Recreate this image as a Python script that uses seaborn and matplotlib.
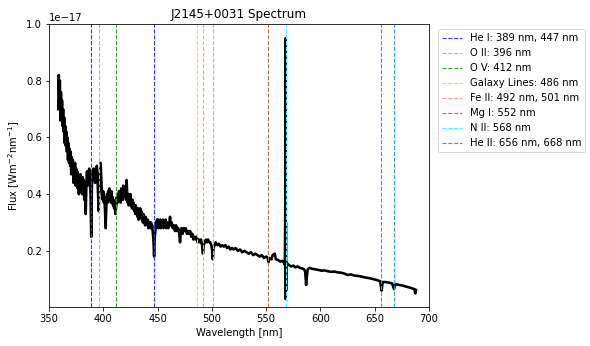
import numpy as np
import matplotlib
matplotlib.use("Agg")
from matplotlib import pyplot as plt
import seaborn as sns

# spectrum (flux in units of 1e-17 W m^-2 nm^-1)
wl_blue = [358.5, 359.0, 359.5, 360.0, 360.5, 361.0, 361.5, 362.0, 362.5, 363.0,
           363.5, 364.0, 364.5, 365.0, 365.5, 366.0, 366.5, 367.0, 367.5, 368.0,
           368.5, 369.0, 369.5, 370.0, 370.5, 371.0, 371.5, 372.0, 372.5, 373.0,
           373.5, 374.0, 374.5, 375.0, 375.5, 376.0, 376.5, 377.0, 377.5, 378.0,
           378.5, 379.0, 379.5, 380.0, 380.5, 381.0, 381.5, 382.0, 382.5, 383.0,
           383.8, 384.5, 385.0, 385.5, 386.0, 386.5, 387.0, 387.5, 388.3, 388.9,
           389.5, 390.0, 390.5, 391.0, 391.5, 392.0, 392.5, 393.0, 393.5, 394.0,
           394.5, 395.2, 395.8, 396.5, 397.0, 397.5, 398.0, 398.5, 399.0, 399.5,
           400.0, 400.5, 401.0, 401.5, 402.2, 402.8, 403.5, 404.0, 404.5, 405.0,
           405.5, 406.0, 406.5, 407.0, 407.5, 408.0, 408.5, 409.0, 409.5, 410.0,
           410.5, 411.2, 412.0, 412.5, 413.0, 413.5, 414.0, 414.5, 415.0, 415.5,
           416.0, 416.5, 417.0, 417.5, 418.0, 418.5, 419.0, 419.5, 420.0, 420.5,
           421.0, 421.5, 422.0, 422.5, 423.0, 423.5, 424.0, 424.5, 425.0, 425.5,
           426.0, 426.5, 427.0, 427.5, 428.0, 428.5, 429.0, 429.5, 430.0, 430.5,
           431.0, 431.5, 432.0, 432.5, 433.0, 433.5, 434.0, 434.5, 435.0, 435.5,
           436.0, 436.5, 437.0, 437.5, 438.0, 438.5, 439.0, 439.5, 440.0, 440.5,
           441.0, 441.5, 442.0, 442.5, 443.0, 443.5, 444.0, 444.5, 445.0, 445.5,
           446.2, 446.8, 447.4, 448.0, 448.5, 449.0, 449.5]
fl_blue = [0.70, 0.82, 0.74, 0.80, 0.66, 0.76, 0.68, 0.73, 0.64, 0.70,
           0.62, 0.67, 0.58, 0.64, 0.57, 0.62, 0.55, 0.60, 0.52, 0.58,
           0.51, 0.56, 0.50, 0.55, 0.47, 0.53, 0.48, 0.52, 0.44, 0.50,
           0.46, 0.51, 0.43, 0.49, 0.45, 0.48, 0.42, 0.47, 0.40, 0.46,
           0.43, 0.47, 0.41, 0.45, 0.40, 0.46, 0.42, 0.45, 0.38, 0.44,
           0.33, 0.44, 0.48, 0.43, 0.47, 0.44, 0.49, 0.45, 0.40, 0.25,
           0.42, 0.48, 0.45, 0.49, 0.46, 0.48, 0.44, 0.49, 0.46, 0.50,
           0.47, 0.40, 0.34, 0.45, 0.48, 0.51, 0.47, 0.42, 0.40, 0.38,
           0.41, 0.37, 0.39, 0.35, 0.28, 0.36, 0.40, 0.37, 0.41, 0.38,
           0.42, 0.39, 0.40, 0.37, 0.41, 0.38, 0.39, 0.36, 0.38, 0.35,
           0.37, 0.33, 0.36, 0.39, 0.37, 0.40, 0.38, 0.41, 0.38, 0.40,
           0.37, 0.42, 0.39, 0.41, 0.38, 0.43, 0.40, 0.42, 0.39, 0.42,
           0.38, 0.45, 0.40, 0.37, 0.40, 0.36, 0.39, 0.37, 0.40, 0.36,
           0.38, 0.35, 0.38, 0.35, 0.37, 0.34, 0.36, 0.33, 0.36, 0.33,
           0.35, 0.32, 0.35, 0.31, 0.34, 0.33, 0.35, 0.32, 0.34, 0.31,
           0.33, 0.30, 0.33, 0.31, 0.32, 0.29, 0.32, 0.30, 0.31, 0.29,
           0.31, 0.28, 0.30, 0.29, 0.30, 0.28, 0.30, 0.28, 0.29, 0.27,
           0.24, 0.18, 0.25, 0.27, 0.30, 0.28, 0.31]

wl_mid = [450.0, 450.5, 451.0, 451.5, 452.0, 452.5, 453.0, 453.5, 454.0, 455.0,
          455.5, 456.0, 457.0, 457.5, 458.0, 459.0, 460.0, 461.0, 461.5, 462.0,
          463.0, 464.0, 465.0, 466.0, 467.0, 468.0, 469.0, 470.0, 470.7, 471.4,
          472.0, 473.0, 474.0, 475.0, 476.0, 477.0, 478.0, 479.0, 480.0, 481.0,
          482.0, 483.0, 484.0, 485.0, 486.0, 487.0, 488.0, 489.0, 490.0, 491.0,
          491.8, 492.5, 493.5, 494.5, 495.5, 496.5, 497.5, 498.5, 499.5, 500.3,
          500.9, 501.5, 502.5, 503.5, 505.0, 506.5, 508.0, 509.5, 511.0, 512.5,
          514.0, 515.5, 517.0, 518.5, 520.0, 522.0, 524.0, 526.0, 528.0, 530.0,
          532.0, 534.0, 536.0, 538.0, 540.0, 542.0, 544.0, 546.0, 548.0, 550.0,
          551.5, 552.2, 553.0, 555.0, 556.0, 558.0, 559.0, 561.0, 563.0, 565.0,
          566.5]
fl_mid = [0.29, 0.31, 0.28, 0.30, 0.29, 0.31, 0.28, 0.30, 0.29, 0.31,
          0.28, 0.30, 0.29, 0.31, 0.28, 0.30, 0.28, 0.30, 0.32, 0.29,
          0.30, 0.28, 0.29, 0.27, 0.29, 0.27, 0.28, 0.26, 0.23, 0.27,
          0.28, 0.26, 0.28, 0.27, 0.28, 0.26, 0.27, 0.26, 0.27, 0.25,
          0.26, 0.24, 0.25, 0.24, 0.25, 0.23, 0.24, 0.23, 0.24, 0.22,
          0.19, 0.22, 0.23, 0.24, 0.23, 0.24, 0.23, 0.23, 0.22, 0.20,
          0.17, 0.21, 0.22, 0.23, 0.22, 0.225, 0.215, 0.22, 0.215, 0.22,
          0.21, 0.215, 0.205, 0.21, 0.205, 0.21, 0.20, 0.205, 0.195, 0.20,
          0.195, 0.19, 0.195, 0.185, 0.19, 0.185, 0.18, 0.185, 0.175, 0.18,
          0.175, 0.16, 0.175, 0.17, 0.185, 0.19, 0.17, 0.168, 0.162, 0.165,
          0.158]

wl_red = [567.3, 567.6, 567.8, 568.0, 568.2, 568.4, 568.6, 569.5, 571.0, 573.0,
          575.0, 577.0, 579.0, 581.0, 583.0, 585.0, 586.0, 586.8, 587.5, 588.3,
          590.0, 592.0, 595.0, 598.0, 601.0, 604.0, 607.0, 610.0, 613.0, 616.0,
          619.0, 622.0, 625.0, 628.0, 631.0, 634.0, 637.0, 640.0, 643.0, 646.0,
          649.0, 652.0, 655.0, 656.3, 657.3, 660.0, 663.0, 666.0, 667.8, 669.0,
          672.0, 675.0, 678.0, 681.0, 684.0, 686.5, 687.5, 688.0]
fl_red = [0.15, 0.36, 0.95, 0.03, 0.30, 0.06, 0.16, 0.155, 0.15, 0.145,
          0.148, 0.142, 0.145, 0.14, 0.138, 0.135, 0.125, 0.08, 0.11, 0.135,
          0.14, 0.137, 0.135, 0.133, 0.13, 0.131, 0.128, 0.126, 0.127, 0.124,
          0.123, 0.12, 0.115, 0.117, 0.113, 0.112, 0.11, 0.107, 0.105, 0.103,
          0.10, 0.097, 0.093, 0.06, 0.09, 0.09, 0.088, 0.085, 0.065, 0.083,
          0.08, 0.078, 0.075, 0.072, 0.068, 0.065, 0.05, 0.062]

# marked lines
line_names = ["He I: 389 nm, 447 nm", "O II: 396 nm", "O V: 412 nm",
              "Galaxy Lines: 486 nm", "Fe II: 492 nm, 501 nm", "Mg I: 552 nm",
              "N II: 568 nm", "He II: 656 nm, 668 nm"]
line_waves = [[389, 447], [396], [412], [486], [492, 501], [552], [568], [656, 668]]
line_colors = ["#3333ff", "#ff9f4a", "#3a9a3a", "#ffd633", "#ff9a9a", "#b0704a",
               "#33ffff", "#3399ff"]

wavelength = np.array(wl_blue + wl_mid + wl_red)
flux = np.array(fl_blue + fl_mid + fl_red) * 1e-17

fig, ax = plt.subplots(figsize=(590 / 72, 346 / 72), dpi=72)
fig.subplots_adjust(left=49 / 590, right=429 / 590, top=1 - 24 / 346, bottom=1 - 307 / 346)

sns.lineplot(x=wavelength, y=flux, color="black", linewidth=2.6, ax=ax)

for name, waves, col in zip(line_names, line_waves, line_colors):
    for i, w in enumerate(waves):
        ax.axvline(w, color=col, linestyle="--", linewidth=1.1,
                   label=name if i == 0 else None)

ax.set_xlim(350, 700)
ax.set_ylim(0.002e-17, 1e-17)
ax.set_xlabel("Wavelength [nm]")
ax.set_ylabel("Flux [Wm$^{-2}$nm$^{-1}$]")
ax.set_title("J2145+0031 Spectrum")
ax.legend(loc="upper left", bbox_to_anchor=(1.01, 1.0))

fig.savefig("out.png", dpi=72)
